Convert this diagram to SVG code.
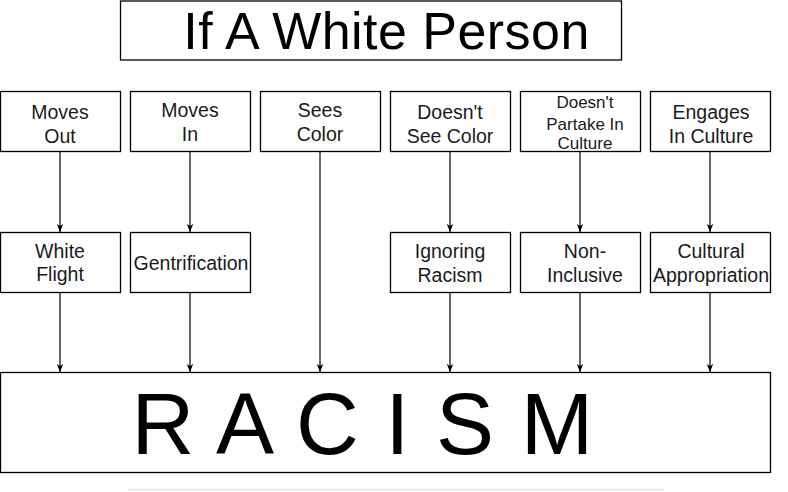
<svg xmlns="http://www.w3.org/2000/svg" width="788" height="492" viewBox="0 0 788 492">
<style>
.box{fill:#fff;stroke:#000;stroke-width:1.3}
.t{font-family:"Liberation Sans",Arial,sans-serif;font-size:19.5px;fill:#1a1a1a;text-anchor:middle}
.s{font-size:17px}
.e{stroke:#000;stroke-width:1.2;fill:none;marker-end:url(#ah)}
</style>
<defs>
<marker id="ah" viewBox="0 0 8 8" refX="8" refY="4" markerWidth="8" markerHeight="8" markerUnits="userSpaceOnUse" orient="auto">
<path d="M0,0.8 L8,4 L0,7.2 L2,4 Z" fill="#000"/>
</marker>
</defs>
<rect width="788" height="492" fill="#fff"/>
<g id="title">
<rect class="box" x="120.5" y="1" width="501" height="59"/>
<text class="t" x="386.5" y="48.5" style="font-size:52px;letter-spacing:0.45px;fill:#000">If A White Person</text>
</g>
<g id="edges">
<path class="e" d="M60,151 V232"/>
<path class="e" d="M190,151 V232"/>
<path class="e" d="M320,151 V372"/>
<path class="e" d="M450,151 V232"/>
<path class="e" d="M580,151 V232"/>
<path class="e" d="M710,151 V232"/>
<path class="e" d="M60,292 V372"/>
<path class="e" d="M190,292 V372"/>
<path class="e" d="M450,292 V372"/>
<path class="e" d="M580,292 V372"/>
<path class="e" d="M710,292 V372"/>
</g>
<g id="movesOut"><rect class="box" x="0.5" y="91.5" width="120" height="60"/><text class="t" x="60" y="119">Moves</text><text class="t" x="60" y="142.5">Out</text></g>
<g id="movesIn"><rect class="box" x="130.5" y="91.5" width="120" height="60"/><text class="t" x="190" y="117">Moves</text><text class="t" x="190" y="141">In</text></g>
<g id="seesColor"><rect class="box" x="260.5" y="91.5" width="120" height="60"/><text class="t" x="320" y="117">Sees</text><text class="t" x="320" y="141">Color</text></g>
<g id="doesntSee"><rect class="box" x="390.5" y="91.5" width="120" height="60"/><text class="t" x="450" y="119">Doesn't</text><text class="t" x="450" y="142.5">See Color</text></g>
<g id="doesntPartake"><rect class="box" x="520.5" y="91.5" width="120" height="60"/><text class="t s" x="585" y="107.5">Doesn't</text><text class="t s" x="585" y="129.5">Partake In</text><text class="t s" x="585" y="149">Culture</text></g>
<g id="engages"><rect class="box" x="650.5" y="91.5" width="120" height="60"/><text class="t" x="711" y="119">Engages</text><text class="t" x="711" y="142.5">In Culture</text></g>
<g id="whiteFlight"><rect class="box" x="0.5" y="232.5" width="120" height="60"/><text class="t" x="60" y="257.5">White</text><text class="t" x="60" y="280.5">Flight</text></g>
<g id="gentrification"><rect class="box" x="130.5" y="232.5" width="120" height="60"/><text class="t" x="191" y="269.5">Gentrification</text></g>
<g id="ignoring"><rect class="box" x="390.5" y="232.5" width="120" height="60"/><text class="t" x="450" y="257.5">Ignoring</text><text class="t" x="450" y="281.5">Racism</text></g>
<g id="nonInclusive"><rect class="box" x="520.5" y="232.5" width="120" height="60"/><text class="t" x="585" y="257.5">Non-</text><text class="t" x="585" y="281.5">Inclusive</text></g>
<g id="appropriation"><rect class="box" x="650.5" y="232.5" width="120" height="60"/><text class="t" x="711" y="257.5">Cultural</text><text class="t" x="711" y="281.5">Appropriation</text></g>
<g id="racism">
<rect class="box" x="0.5" y="372.5" width="770" height="100"/>
<text class="t" x="131.5" y="453.5" style="font-size:87px;letter-spacing:1.2px;fill:#000;text-anchor:start">R A C I S M</text>
</g>
<line x1="128" y1="489.5" x2="664" y2="489.5" stroke="#e4e4e4" stroke-width="1.5"/>
</svg>
